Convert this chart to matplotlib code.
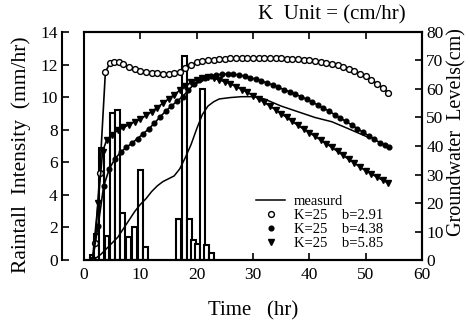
import matplotlib
matplotlib.use("Agg")
import matplotlib.pyplot as plt

plt.rcParams['font.family'] = ['Liberation Serif', 'DejaVu Serif']

# rainfall hyetograph (mm/hr)
rain_t = [1.5, 2.2, 3.1, 4.1, 5.0, 5.9, 6.8, 7.9, 8.9, 10.0, 10.9,
          16.8, 17.8, 18.7, 19.5, 20.2, 21.0, 21.8, 22.6]
rain_i = [0.3, 1.6, 6.9, 1.5, 9.0, 9.2, 2.9, 1.4, 2.0, 5.5, 0.8,
          2.5, 12.5, 2.5, 1.2, 1.0, 10.5, 0.9, 0.4]

# measured groundwater level (cm)
meas_t = [1, 2, 3, 4, 5, 6, 7, 8, 9, 10, 11, 12, 13, 14, 15, 16, 17, 18, 19,
          20, 21, 22, 23, 24, 26, 28, 30, 32, 35, 38, 41, 44, 47, 50.5]
meas_h = [0, 0.5, 2, 4, 6, 8, 11, 14, 17, 19.5, 21.5, 24, 26, 27.5, 28.5, 29.5,
          32, 36, 40.5, 46, 51, 54, 55.5, 56.5, 57, 57.3, 57.3, 56.5, 54, 52,
          50, 48.5, 46, 43]

# simulated, K=25 b=2.91
s1_t = [1.5, 2, 2.8, 3.8, 4.6, 5.4, 6.2, 7, 8, 9, 10, 11, 12, 13, 14, 15, 16,
        17, 18, 19, 20, 21, 22, 23, 24, 25, 26, 27, 28, 29, 30, 31, 32, 33, 34,
        35, 36, 37, 38, 39, 40, 41, 42, 43, 44, 45, 46, 47, 48, 49, 50, 51, 52,
        53, 54]
s1_h = [0, 6, 30.5, 66, 69, 69.5, 69.3, 68.6, 67.8, 67, 66.3, 65.9, 65.6, 65.5,
        65.4, 65.4, 65.6, 66, 67.2, 68.5, 69.3, 69.8, 70.1, 70.3, 70.5, 70.6,
        70.7, 70.8, 70.8, 70.9, 70.9, 70.9, 70.9, 70.8, 70.8, 70.7, 70.6, 70.5,
        70.4, 70.2, 70.0, 69.8, 69.5, 69.2, 68.8, 68.3, 67.8, 67.1, 66.3, 65.4,
        64.4, 63.2, 61.9, 60.4, 58.6]

# simulated, K=25 b=4.38
s2_t = [1.5, 2.5, 3.5, 4.5, 5.5, 6.5, 7.5, 8.5, 9.5, 10.5, 11.5, 12.5, 13.5,
        14.5, 15.5, 16.5, 17.5, 18.5, 19.5, 20.5, 21.5, 22.5, 23.5, 24.5, 25.5,
        26.5, 27.5, 28.5, 29.5, 30.5, 31.5, 32.5, 33.5, 34.5, 35.5, 36.5, 37.5,
        38.5, 39.5, 40.5, 41.5, 42.5, 43.5, 44.5, 45.5, 46.5, 47.5, 48.5, 49.5,
        50.5, 51.5, 52.5, 53.5, 54.2]
s2_h = [0, 12, 26, 32, 35.5, 37.8, 39.5, 41, 42.6, 44.3, 46, 48, 50.2, 52.2,
        54, 55.7, 57.3, 59.5, 61.6, 63, 63.8, 64.4, 64.9, 65.2, 65.3, 65.2,
        64.9, 64.5, 64, 63.4, 62.8, 62.1, 61.4, 60.6, 59.8, 59, 58.2, 57.3,
        56.4, 55.4, 54.4, 53.3, 52.2, 51, 49.8, 48.6, 47.4, 46.1, 44.9, 43.6,
        42.4, 41.2, 40.2, 39.5]

# simulated, K=25 b=5.85
s3_t = [1.5, 2.5, 3.3, 4, 5, 6, 7, 8, 9, 10, 11, 12, 13, 14, 15, 16, 17, 18,
        19, 20, 21, 22, 23, 24, 25, 26, 27, 28, 29, 30, 31, 32, 33, 34, 35, 36,
        37, 38, 39, 40, 41, 42, 43, 44, 45, 46, 47, 48, 49, 50, 51, 52, 53, 54]
s3_h = [0, 20, 38, 42, 44, 45.5, 46.5, 47.5, 48.5, 49.5, 50.7, 52, 53.5, 55,
        56.5, 58, 59.5, 61, 62.3, 63.3, 64, 64.2, 63.8, 63.2, 62.5, 61.8, 60.8,
        59.8, 58.8, 57.7, 56.6, 55.3, 54, 52.7, 51.3, 50, 48.6, 47.2, 45.9,
        44.6, 43.4, 42.1, 40.8, 39.5, 38.1, 36.7, 35.3, 34, 32.6, 31.3, 30.2,
        29.1, 28, 27]

fig = plt.figure(figsize=(4.7, 3.23), dpi=100)
ax = fig.add_axes([0.1787, 0.195, 0.7193, 0.706])

ax.bar(rain_t, rain_i, width=0.85, facecolor='white', edgecolor='black',
       linewidth=1.5, zorder=2)
ax.set_xlim(0, 60)
ax.set_ylim(0, 14)
ax.set_xticks(range(0, 61, 10))
ax.set_yticks(range(0, 15, 2))
ax.spines['left'].set_position(('outward', 16))
for s in ax.spines.values():
    s.set_linewidth(1.5)
ax.tick_params(axis='both', direction='in', labelsize=12.5, width=1.2, length=5, pad=3)
ax.tick_params(axis='x', top=True, pad=5)
ax.set_ylabel('Raintall  Intensity  (mm/hr)', fontsize=15.5)
ax.yaxis.set_label_coords(-0.158, 0.46)
ax.set_xlabel('Time   (hr)', fontsize=15)
ax.xaxis.set_label_coords(0.5, -0.18)

ax2 = ax.twinx()
ax2.set_ylim(0, 80)
ax2.set_yticks(range(0, 81, 10))
for s in ax2.spines.values():
    s.set_linewidth(1.5)
ax2.tick_params(axis='y', direction='in', labelsize=12.5, width=1.2, length=5, pad=3)

ax2.plot(meas_t, meas_h, color='black', lw=1.1, label='measurd')
ax2.plot(s1_t, s1_h, color='black', lw=1.2, marker='o', ms=4.2,
         mfc='white', mec='black', mew=1.0, label='K=25    b=2.91')
ax2.plot(s2_t, s2_h, color='black', lw=1.2, marker='o', ms=3.4,
         label='K=25    b=4.38')
ax2.plot(s3_t, s3_h, color='black', lw=1.2, marker='v', ms=4.0,
         label='K=25    b=5.85')

ax2.set_ylabel('Groundwater  Levels(cm)', fontsize=14.5)
ax2.yaxis.set_label_coords(1.075, 0.56)

leg = ax2.legend(loc='lower right', bbox_to_anchor=(0.915, 0.0), frameon=False,
                 fontsize=10.5, handlelength=2.0, labelspacing=0.05,
                 handletextpad=0.6, borderpad=0.2)
for h in leg.legend_handles[1:]:
    h.set_linestyle('none')

fig.text(0.707, 0.953, 'K  Unit = (cm/hr)', fontsize=15, ha='center', va='center')

fig.savefig('out.png', dpi=100)
